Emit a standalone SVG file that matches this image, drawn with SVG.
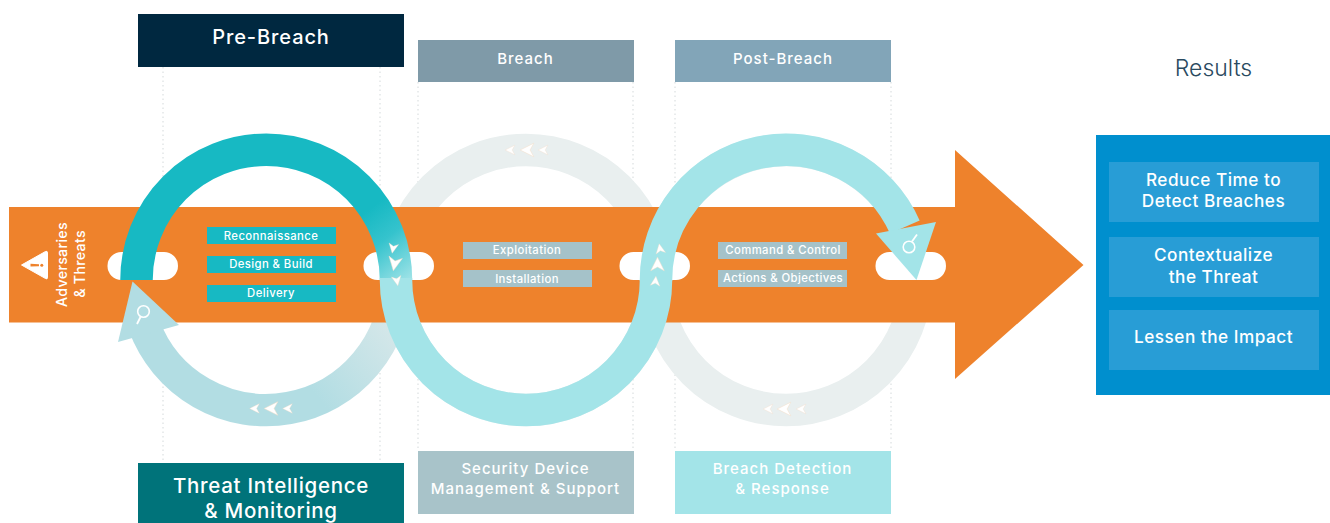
<svg xmlns="http://www.w3.org/2000/svg" xmlns:xlink="http://www.w3.org/1999/xlink" width="1330" height="523" viewBox="0 0 1330 523">
<style>
text{font-family:Inter,"Open Sans","Liberation Sans",sans-serif;fill:#fff;text-anchor:middle;font-weight:450}
.ring{fill:none;stroke-width:32.5}
.dots{stroke:#d4d9db;stroke-width:1;stroke-dasharray:1.5 3;fill:none}
.pill{fill:#fff}
.chev{fill:#fff;stroke:#f6dcc6;stroke-width:.07}
.sm{font-size:11.3px;letter-spacing:.42px}
.hd{font-size:15px;letter-spacing:1px}
.res{font-size:17.200px;letter-spacing:.5px}
</style>
<defs>
<path id="c" d="M-1 0L1-1L.45 0L1 1Z"/>
<linearGradient id="g1" gradientUnits="userSpaceOnUse" x1="358" y1="218" x2="408" y2="284"><stop offset="0" stop-color="#17b9c3"/><stop offset=".4" stop-color="#35c3cd"/><stop offset="1" stop-color="#a3e4e8"/></linearGradient>
<linearGradient id="g2" gradientUnits="userSpaceOnUse" x1="320" y1="400" x2="400" y2="335"><stop offset="0" stop-color="#b2dde3"/><stop offset="1" stop-color="#d5e7e9"/></linearGradient>
</defs>
<g id="guides">
<path class="dots" d="M163 67V463M380 67V463M418 82V451M633 82V451M675 82V451M891 82V451"/>
</g>
<g id="connectors">
<circle id="ring-breach" class="ring" cx="526" cy="280" r="130" stroke="#e9efef"/>
<circle id="ring-post" class="ring" cx="786" cy="280" r="130" stroke="#e9efef"/>
<path id="intel-arc" class="ring" stroke="url(#g2)" d="M396 280A130 130 0 0 1 144 325"/>
</g>
<g id="main-arrow">
<path d="M9 207H955V150L1083.500 265L955 379V322.500H9Z" fill="#ee822c"/>
<g class="pill">
<rect x="107.500" y="252" width="70.500" height="28" rx="14"/>
<rect x="363.500" y="252" width="70.500" height="28" rx="14"/>
<rect x="619.500" y="252" width="70.500" height="28" rx="14"/>
<rect x="875.500" y="252" width="70.500" height="28" rx="14"/>
</g>
</g>
<g id="adversaries">
<path d="M21.500 265L45.500 251.500Q47.500 250.500 47.500 253V277Q47.500 280 45.500 278.500Z" fill="#fff" stroke="#fff" stroke-width="1" stroke-linejoin="round"/>
<path d="M30.500 263.800L39 264.200V266.200L30.500 266.600Z" fill="#ee822c"/>
<circle cx="41.800" cy="265.200" r="1.500" fill="#ee822c"/>
<text transform="translate(67 264.500) rotate(-90)" style="font-size:14.300px;letter-spacing:.25px">Adversaries</text>
<text transform="translate(85 264) rotate(-90)" style="font-size:14.300px;letter-spacing:.25px">&amp; Threats</text>
</g>
<g id="teal-flow">
<path class="ring" stroke="url(#g1)" d="M136.500 280A129.500 130 0 0 1 396 280"/>
<path class="ring" stroke="#a3e4e8" d="M396 278V280A130 130 0 0 0 656 280"/>
<path class="ring" stroke="#a3e4e8" d="M656 281V280A130 130 0 0 1 904.800 227"/>
<polygon points="916.500,280 876,233.500 936,222" fill="#a3e4e8"/>
<polygon points="132.500,281.500 118,342 179,325" fill="#b2dde3"/>
<circle cx="143.500" cy="311.500" r="5.800" fill="none" stroke="#fff" stroke-width="1.600"/>
<path d="M140.500 317L137 324" stroke="#fff" stroke-width="1.800" fill="none"/>
<circle cx="909" cy="247" r="5.800" fill="none" stroke="#fff" stroke-width="1.600"/>
<path d="M912 241.500L917 234.500" stroke="#fff" stroke-width="1.800" fill="none"/>
</g>
<g id="chevrons">
<use xlink:href="#c" class="chev" transform="translate(254.500 408.500) scale(4.800)"/>
<use xlink:href="#c" class="chev" transform="translate(271 408.500) scale(6.800)"/>
<use xlink:href="#c" class="chev" transform="translate(287.500 408.500) scale(4.800)"/>
<use xlink:href="#c" class="chev" transform="translate(510 150) scale(4.800)"/>
<use xlink:href="#c" class="chev" transform="translate(527 150) scale(6.800)"/>
<use xlink:href="#c" class="chev" transform="translate(543 150) scale(4.800)"/>
<use xlink:href="#c" class="chev" transform="translate(768 409) scale(4.800)"/>
<use xlink:href="#c" class="chev" transform="translate(784 409) scale(6.800)"/>
<use xlink:href="#c" class="chev" transform="translate(801 409) scale(4.800)"/>
<use xlink:href="#c" class="chev" transform="translate(393 248.500) rotate(-80) scale(4.800)"/>
<use xlink:href="#c" class="chev" transform="translate(394.500 264) rotate(-80) scale(6.800)"/>
<use xlink:href="#c" class="chev" transform="translate(397 281) rotate(-100) scale(4.800)"/>
<use xlink:href="#c" class="chev" transform="translate(660 248.500) rotate(80) scale(4.800)"/>
<use xlink:href="#c" class="chev" transform="translate(657.500 264) rotate(90) scale(6.800)"/>
<use xlink:href="#c" class="chev" transform="translate(655.500 281) rotate(95) scale(4.800)"/>
</g>
<g id="stage-reconnaissance"><rect x="207" y="227" width="129" height="17" fill="#17b9c3"/><text class="sm" x="271" y="240">Reconnaissance</text></g>
<g id="stage-design"><rect x="207" y="256" width="129" height="17" fill="#17b9c3"/><text class="sm" x="271" y="268">Design &amp; Build</text></g>
<g id="stage-delivery"><rect x="207" y="285" width="129" height="17" fill="#17b9c3"/><text class="sm" x="271" y="297">Delivery</text></g>
<g id="stage-exploitation"><rect x="463" y="242" width="129" height="17" fill="#a5c2c9"/><text class="sm" x="527" y="254">Exploitation</text></g>
<g id="stage-installation"><rect x="463" y="270" width="129" height="17" fill="#a5c2c9"/><text class="sm" x="527" y="283">Installation</text></g>
<g id="stage-command"><rect x="718" y="242" width="129" height="17" fill="#a5c2c9"/><text class="sm" x="783" y="254">Command &amp; Control</text></g>
<g id="stage-actions"><rect x="718" y="270" width="129" height="17" fill="#a5c2c9"/><text class="sm" x="783" y="282">Actions &amp; Objectives</text></g>
<g id="pre-breach"><rect x="138" y="14" width="266" height="53" fill="#002840"/><text x="271" y="44" style="font-size:20px;letter-spacing:.9px">Pre-Breach</text></g>
<g id="breach"><rect x="418" y="40" width="216" height="42" fill="#7f9aa8"/><text class="hd" x="525.500" y="64">Breach</text></g>
<g id="post-breach"><rect x="675" y="40" width="216" height="42" fill="#82a5b8"/><text class="hd" x="783" y="64">Post-Breach</text></g>
<g id="threat-intel"><rect x="138" y="463" width="266" height="60" fill="#00737a"/><text x="271" y="493" style="font-size:20.500px;letter-spacing:.7px">Threat Intelligence</text><text x="271" y="518" style="font-size:20.500px;letter-spacing:.7px">&amp; Monitoring</text></g>
<g id="security"><rect x="418" y="451" width="216" height="63" fill="#a8c3c9"/><text class="hd" x="525.500" y="474">Security Device</text><text class="hd" x="525.500" y="494">Management &amp; Support</text></g>
<g id="detection"><rect x="675" y="451" width="216" height="63" fill="#a3e4e8"/><text class="hd" x="782.500" y="474">Breach Detection</text><text class="hd" x="782.500" y="494">&amp; Response</text></g>
<g id="results-title"><text x="1213.500" y="76" style="font-size:23px;font-weight:300;fill:#2a4a60">Results</text></g>
<g id="results">
<rect x="1096" y="135" width="234" height="260" fill="#008fce"/>
<rect x="1109" y="162" width="210" height="60" fill="#289dd6"/>
<rect x="1109" y="237" width="210" height="60" fill="#289dd6"/>
<rect x="1109" y="310" width="210" height="60" fill="#289dd6"/>
<text class="res" x="1213.500" y="186">Reduce Time to</text>
<text class="res" x="1213.500" y="207">Detect Breaches</text>
<text class="res" x="1213.500" y="261">Contextualize</text>
<text class="res" x="1213.500" y="283">the Threat</text>
<text class="res" x="1213.500" y="343">Lessen the Impact</text>
</g>
</svg>
